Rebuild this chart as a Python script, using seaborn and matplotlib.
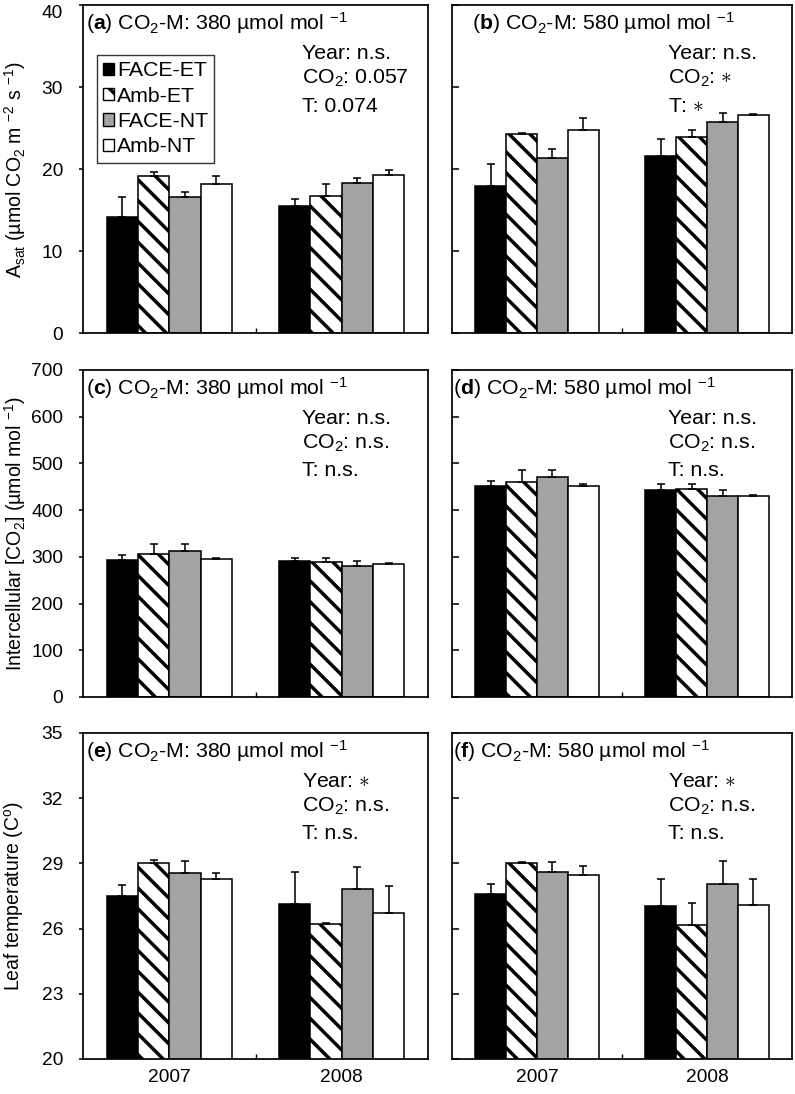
import numpy as np
import pandas as pd
import matplotlib
matplotlib.use("Agg")
import matplotlib.pyplot as plt
import matplotlib.transforms as mtransforms
from matplotlib.patches import Patch
import seaborn as sns

# treatments and years
treatments = ["FACE-ET", "Amb-ET", "FACE-NT", "Amb-NT"]
years = ["2007", "2008"]
bar_colors = ["black", "white", "#a3a3a3", "white"]

# values: one list per treatment -> [2007, 2008]
asat_380 = [[14.2, 15.5], [19.2, 16.7], [16.6, 18.3], [18.2, 19.3]]
asat_380_se = [[2.4, 0.8], [0.4, 1.5], [0.55, 0.6], [1.0, 0.6]]
asat_580 = [[17.9, 21.6], [24.3, 23.9], [21.4, 25.7], [24.8, 26.6]]
asat_580_se = [[2.7, 2.1], [0.12, 0.9], [1.0, 1.1], [1.4, 0.15]]

ci_380 = [[294, 291], [307, 290], [312, 280], [296, 285]]
ci_380_se = [[9, 6], [20, 8], [16, 12], [1, 1]]
ci_580 = [[451, 444], [461, 446], [470, 430], [451, 430]]
ci_580_se = [[12, 13], [24, 11], [16, 14], [4, 2]]

tleaf_380 = [[27.5, 27.15], [29.0, 26.2], [28.55, 27.8], [28.26, 26.72]]
tleaf_380_se = [[0.5, 1.45], [0.15, 0.08], [0.55, 1.05], [0.3, 1.25]]
tleaf_580 = [[27.6, 27.05], [29.0, 26.18], [28.6, 28.05], [28.46, 27.1]]
tleaf_580_se = [[0.45, 1.23], [0.06, 1.0], [0.46, 1.07], [0.42, 1.18]]

titles = ["a", "b", "c", "d", "e", "f"]
co2_levels = ["380", "580", "380", "580", "380", "580"]
stats_year = ["n.s.", "n.s.", "n.s.", "n.s.", "$\\ast$", "$\\ast$"]
stats_co2 = ["0.057", "$\\ast$", "n.s.", "n.s.", "n.s.", "n.s."]
stats_t = ["0.074", "$\\ast$", "n.s.", "n.s.", "n.s.", "n.s."]

sns.set_style("ticks", {"axes.edgecolor": "black", "xtick.color": "black",
                        "ytick.color": "black", "text.color": "black",
                        "axes.labelcolor": "black"})
plt.rcParams['font.family'] = ['Liberation Sans', 'DejaVu Sans']
plt.rcParams['mathtext.fontset'] = 'custom'
plt.rcParams['mathtext.rm'] = 'Liberation Sans'
plt.rcParams['mathtext.it'] = 'Liberation Sans:italic'
plt.rcParams['mathtext.bf'] = 'Liberation Sans:bold'
plt.rcParams['hatch.linewidth'] = 2.0
plt.rcParams['hatch.color'] = 'black'

DPI = 125
TITLE_FMT = "($\\mathbf{%s}$) CO$_2$-M: %s µmol mol $^{-1}$"


def text_width(s, size):
    f = plt.figure(figsize=(4, 2), dpi=DPI)
    t = f.text(0.0, 0.5, s, fontsize=size)
    f.canvas.draw()
    w = t.get_window_extent().width
    plt.close(f)
    return w


# pick a font size so the panel title spans about as wide as in the reference
FS = 11 * 262 / text_width(TITLE_FMT % ("a", "380"), 11)
TICK_FS = FS * 0.9
YLAB_FS = FS * 0.92


def draw_panel(ax, means, errs):
    rows = []
    for t, vals in zip(treatments, means):
        for y, v in zip(years, vals):
            rows.append({"year": y, "trt": t, "value": v})
    df = pd.DataFrame(rows)
    sns.barplot(data=df, x="year", y="value", hue="trt", order=years,
                hue_order=treatments, palette=dict(zip(treatments, bar_colors)),
                edgecolor="black", linewidth=0.9, width=0.727, errorbar=None,
                saturation=1, legend=False, ax=ax)
    # upper error bars only
    for cont, t, err in zip(ax.containers, treatments, errs):
        if t == "Amb-ET":
            for bar in cont:
                bar.set_hatch("\\\\")
        xs = [b.get_x() + b.get_width() / 2 for b in cont]
        hs = [b.get_height() for b in cont]
        ax.errorbar(xs, hs, yerr=[np.zeros(len(err)), err], fmt="none",
                    ecolor="black", elinewidth=0.9, capsize=2.4, capthick=0.9)


fig = plt.figure(figsize=(795 / DPI, 1094 / DPI), dpi=DPI)
col_x = [(0.1044, 0.434), (0.5686, 0.4277)]
row_y = [(0.6956, 0.2998), (0.3629, 0.2989), (0.0320, 0.2980)]

panels = [(asat_380, asat_380_se), (asat_580, asat_580_se),
          (ci_380, ci_380_se), (ci_580, ci_580_se),
          (tleaf_380, tleaf_380_se), (tleaf_580, tleaf_580_se)]
ylims = [(0, 40), (0, 700), (20, 35)]
yticks = [np.arange(0, 41, 10), np.arange(0, 701, 100), np.arange(20, 36, 3)]
ylabels = ["A$_{\\mathrm{sat}}$ (µmol CO$_2$ m $^{-2}$ s $^{-1}$)",
           "Intercellular [CO$_2$] (µmol mol $^{-1}$)",
           "Leaf temperature (C$^{\\mathrm{o}}$)"]
title_x = [0.01, 0.058, 0.01, 0.004, 0.01, 0.004]

left_axes = []
for i, (means, errs) in enumerate(panels):
    r, c = divmod(i, 2)
    ax = fig.add_axes([col_x[c][0], row_y[r][0], col_x[c][1], row_y[r][1]])
    draw_panel(ax, means, errs)
    ax.set_ylim(*ylims[r])
    ax.set_yticks(yticks[r])
    ax.set_xlim(-0.5, 1.5)
    for sp in ax.spines.values():
        sp.set_visible(True)
        sp.set_linewidth(1.0)
        sp.set_color("black")
    ax.tick_params(axis="y", direction="in" if c == 1 else "out",
                   length=4 if c == 1 else 2.5, width=0.9,
                   labelsize=TICK_FS, pad=9)
    ax.tick_params(axis="x", which="major", length=0, labelsize=TICK_FS, pad=6)
    ax.set_xticks([0.5], minor=True)
    ax.tick_params(axis="x", which="minor", direction="in", length=3, width=0.8)
    ax.set_xlabel("")
    if r < 2:
        ax.set_xticklabels([])
    if c == 1:
        ax.tick_params(labelleft=False)
        ax.set_ylabel("")
    else:
        ax.set_ylabel(ylabels[r], fontsize=YLAB_FS)
        ax.yaxis.set_label_coords(-0.17, 0.5)
        left_axes.append(ax)

    ax.text(title_x[i], 0.925, TITLE_FMT % (titles[i], co2_levels[i]),
            transform=ax.transAxes, fontsize=FS, ha="left", va="baseline")
    ax.text(0.635, 0.835, "Year: " + stats_year[i], transform=ax.transAxes,
            fontsize=FS, va="baseline")
    ax.text(0.635, 0.76, "CO$_2$: " + stats_co2[i], transform=ax.transAxes,
            fontsize=FS, va="baseline")
    ax.text(0.635, 0.675, "T: " + stats_t[i], transform=ax.transAxes,
            fontsize=FS, va="baseline")

    if i == 0:
        handles = [Patch(facecolor=col, edgecolor="black", linewidth=0.8,
                         hatch="\\\\" if t == "Amb-ET" else None)
                   for t, col in zip(treatments, bar_colors)]
        leg = ax.legend(handles, treatments, loc="upper left",
                        bbox_to_anchor=(0.04, 0.848), borderaxespad=0,
                        frameon=True, fancybox=False, edgecolor="black",
                        fontsize=FS, handlelength=0.5, handleheight=0.5,
                        handletextpad=0.15, labelspacing=0.3, borderpad=0.3)
        leg.get_frame().set_linewidth(0.8)

# top "40" label sits a bit lower in the reference (figure edge)
top_lab = left_axes[0].yaxis.get_major_ticks()[-1].label1
top_lab.set_transform(top_lab.get_transform() +
                      mtransforms.ScaledTranslation(0, -6 / DPI, fig.dpi_scale_trans))

# push y labels so they just touch the left edge of the figure
fig.canvas.draw()
for ax in left_axes:
    bb = ax.yaxis.label.get_window_extent()
    ax_w = ax.get_window_extent().width
    x_now = ax.yaxis.label.get_position()
    shift = (2 - bb.x0) / ax_w
    ax.yaxis.set_label_coords(-0.17 + shift, 0.5)

fig.savefig("out.png", dpi=DPI)
